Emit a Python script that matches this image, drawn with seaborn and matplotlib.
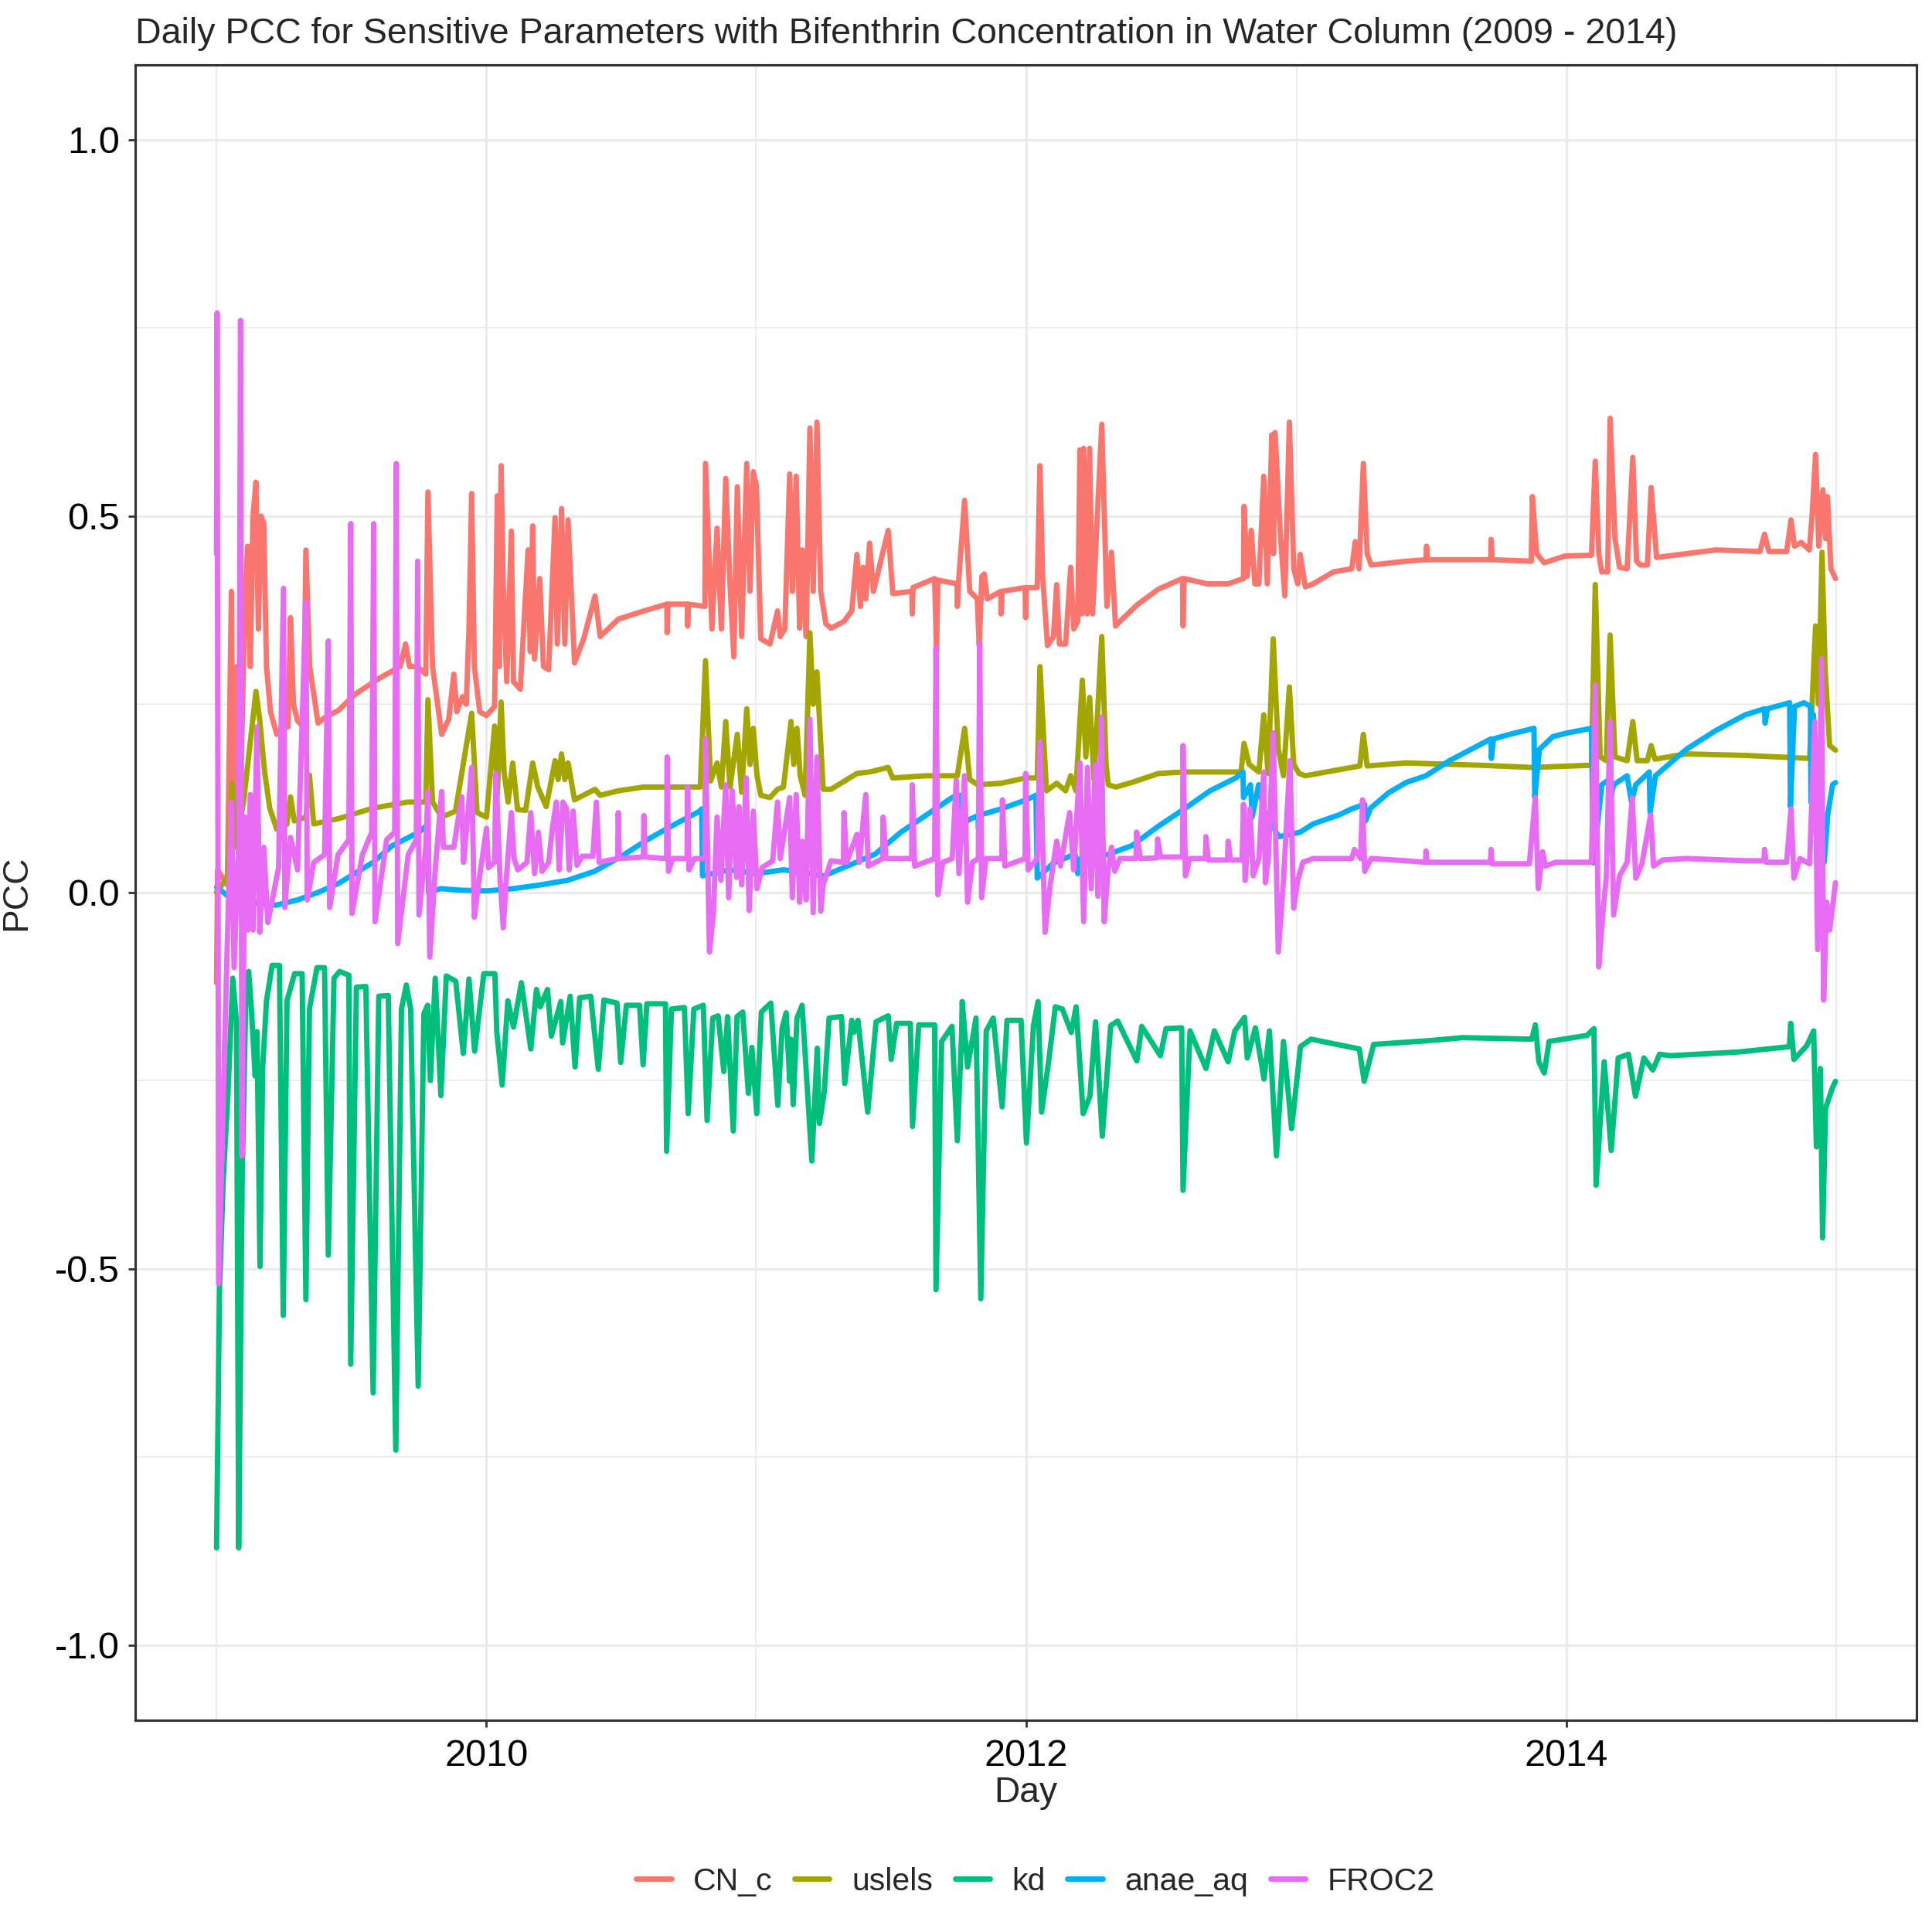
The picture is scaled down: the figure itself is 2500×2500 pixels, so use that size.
import matplotlib.pyplot as plt
import matplotlib.dates as mdates
import numpy as np
import pandas as pd
import seaborn as sns

# values: decimal year, PCC
cn_c_t = [2009.000, 2009.004, 2009.040, 2009.055, 2009.062, 2009.075, 2009.090, 2009.105, 2009.115, 2009.125,
          2009.135, 2009.146, 2009.155, 2009.165, 2009.175, 2009.185, 2009.200, 2009.223, 2009.245, 2009.265,
          2009.274, 2009.285, 2009.300, 2009.322, 2009.331, 2009.345, 2009.376, 2009.400, 2009.452, 2009.516,
          2009.605, 2009.680, 2009.700, 2009.715, 2009.745, 2009.775, 2009.783, 2009.800, 2009.834, 2009.860,
          2009.879, 2009.890, 2009.911, 2009.925, 2009.935, 2009.945, 2009.955, 2009.975, 2010.000, 2010.030,
          2010.040, 2010.047, 2010.054, 2010.062, 2010.075, 2010.092, 2010.100, 2010.125, 2010.154, 2010.162,
          2010.171, 2010.178, 2010.197, 2010.211, 2010.230, 2010.254, 2010.262, 2010.278, 2010.290, 2010.302,
          2010.326, 2010.360, 2010.402, 2010.421, 2010.488, 2010.583, 2010.668, 2010.669, 2010.672, 2010.744,
          2010.745, 2010.748, 2010.809, 2010.811, 2010.835, 2010.854, 2010.870, 2010.886, 2010.902, 2010.916,
          2010.929, 2010.945, 2010.964, 2010.976, 2010.988, 2011.000, 2011.016, 2011.050, 2011.078, 2011.088,
          2011.105, 2011.123, 2011.133, 2011.147, 2011.160, 2011.170, 2011.184, 2011.198, 2011.210, 2011.224,
          2011.238, 2011.257, 2011.276, 2011.324, 2011.353, 2011.372, 2011.385, 2011.395, 2011.405, 2011.419,
          2011.433, 2011.488, 2011.505, 2011.576, 2011.577, 2011.580, 2011.660, 2011.667, 2011.672, 2011.743,
          2011.744, 2011.748, 2011.771, 2011.790, 2011.818, 2011.825, 2011.835, 2011.844, 2011.855, 2011.905,
          2011.906, 2011.910, 2011.995, 2011.997, 2012.000, 2012.040, 2012.050, 2012.060, 2012.078, 2012.100,
          2012.112, 2012.122, 2012.145, 2012.164, 2012.175, 2012.190, 2012.198, 2012.205, 2012.212, 2012.225,
          2012.234, 2012.245, 2012.279, 2012.298, 2012.315, 2012.330, 2012.346, 2012.413, 2012.489, 2012.578,
          2012.580, 2012.584, 2012.670, 2012.747, 2012.804, 2012.806, 2012.818, 2012.833, 2012.846, 2012.861,
          2012.879, 2012.892, 2012.909, 2012.915, 2012.921, 2012.940, 2012.957, 2012.974, 2012.990, 2013.005,
          2013.014, 2013.033, 2013.062, 2013.138, 2013.205, 2013.218, 2013.232, 2013.248, 2013.262, 2013.277,
          2013.406, 2013.480, 2013.482, 2013.486, 2013.720, 2013.721, 2013.726, 2013.870, 2013.874, 2013.890,
          2013.918, 2013.995, 2014.093, 2014.107, 2014.120, 2014.131, 2014.153, 2014.162, 2014.180, 2014.197,
          2014.225, 2014.246, 2014.260, 2014.274, 2014.300, 2014.314, 2014.334, 2014.444, 2014.553, 2014.717,
          2014.734, 2014.750, 2014.816, 2014.832, 2014.845, 2014.870, 2014.900, 2014.910, 2014.923, 2014.935,
          2014.950, 2014.960, 2014.967, 2014.980, 2014.997]
cn_c_v = [-0.12, 0.03, 0.01, 0.40, 0.08, 0.30, 0.15, 0.38, 0.46, 0.30,
          0.50, 0.545, 0.35, 0.50, 0.49, 0.30, 0.24, 0.21, 0.22, 0.22,
          0.365, 0.25, 0.228, 0.22, 0.455, 0.30, 0.225, 0.232, 0.242, 0.264,
          0.285, 0.30, 0.33, 0.30, 0.30, 0.29, 0.532, 0.30, 0.21, 0.23,
          0.29, 0.24, 0.26, 0.25, 0.35, 0.53, 0.30, 0.24, 0.235, 0.247,
          0.527, 0.30, 0.567, 0.41, 0.28, 0.48, 0.28, 0.27, 0.455, 0.32,
          0.487, 0.31, 0.417, 0.30, 0.296, 0.498, 0.33, 0.51, 0.33, 0.495,
          0.305, 0.337, 0.394, 0.34, 0.363, 0.374, 0.383, 0.345, 0.383, 0.383,
          0.354, 0.383, 0.38, 0.57, 0.35, 0.484, 0.35, 0.55, 0.41, 0.313,
          0.539, 0.34, 0.57, 0.40, 0.559, 0.54, 0.337, 0.33, 0.374, 0.34,
          0.35, 0.556, 0.40, 0.553, 0.351, 0.455, 0.34, 0.617, 0.40, 0.625,
          0.40, 0.357, 0.351, 0.36, 0.374, 0.449, 0.38, 0.432, 0.39, 0.464,
          0.40, 0.481, 0.397, 0.40, 0.37, 0.405, 0.417, 0.319, 0.415, 0.41,
          0.38, 0.41, 0.521, 0.40, 0.39, 0.328, 0.42, 0.423, 0.39, 0.40,
          0.37, 0.40, 0.405, 0.365, 0.405, 0.405, 0.567, 0.42, 0.328, 0.34,
          0.409, 0.33, 0.33, 0.432, 0.35, 0.36, 0.588, 0.37, 0.59, 0.37,
          0.59, 0.37, 0.622, 0.38, 0.452, 0.354, 0.36, 0.383, 0.403, 0.417,
          0.354, 0.417, 0.41, 0.41, 0.417, 0.513, 0.42, 0.481, 0.41, 0.41,
          0.553, 0.41, 0.608, 0.45, 0.611, 0.478, 0.394, 0.625, 0.43, 0.41,
          0.449, 0.406, 0.41, 0.426, 0.43, 0.466, 0.43, 0.57, 0.45, 0.435,
          0.44, 0.442, 0.46, 0.442, 0.442, 0.469, 0.442, 0.44, 0.526, 0.45,
          0.438, 0.447, 0.448, 0.573, 0.45, 0.426, 0.426, 0.63, 0.47, 0.432,
          0.43, 0.578, 0.44, 0.435, 0.435, 0.538, 0.445, 0.45, 0.455, 0.453,
          0.476, 0.453, 0.453, 0.495, 0.46, 0.465, 0.455, 0.50, 0.582, 0.46,
          0.535, 0.47, 0.526, 0.43, 0.417]

uslels_t = [2009.000, 2009.040, 2009.057, 2009.070, 2009.100, 2009.127, 2009.146, 2009.160, 2009.178, 2009.197,
            2009.223, 2009.260, 2009.274, 2009.288, 2009.331, 2009.344, 2009.360, 2009.452, 2009.580, 2009.707,
            2009.775, 2009.783, 2009.800, 2009.834, 2009.885, 2009.945, 2009.965, 2010.000, 2010.030, 2010.040,
            2010.054, 2010.065, 2010.080, 2010.097, 2010.115, 2010.145, 2010.171, 2010.190, 2010.221, 2010.254,
            2010.265, 2010.278, 2010.290, 2010.302, 2010.326, 2010.402, 2010.421, 2010.488, 2010.583, 2010.792,
            2010.811, 2010.830, 2010.854, 2010.870, 2010.886, 2010.902, 2010.929, 2010.945, 2010.964, 2010.976,
            2010.988, 2011.002, 2011.016, 2011.050, 2011.078, 2011.100, 2011.128, 2011.138, 2011.150, 2011.162,
            2011.180, 2011.198, 2011.210, 2011.224, 2011.247, 2011.276, 2011.372, 2011.419, 2011.488, 2011.505,
            2011.630, 2011.744, 2011.771, 2011.790, 2011.820, 2011.906, 2011.997, 2012.040, 2012.050, 2012.074,
            2012.112, 2012.145, 2012.164, 2012.183, 2012.207, 2012.220, 2012.234, 2012.250, 2012.279, 2012.295,
            2012.303, 2012.331, 2012.390, 2012.489, 2012.585, 2012.795, 2012.806, 2012.825, 2012.861, 2012.879,
            2012.895, 2012.914, 2012.933, 2012.952, 2012.974, 2012.990, 2013.010, 2013.033, 2013.158, 2013.235,
            2013.248, 2013.262, 2013.406, 2013.677, 2013.874, 2014.093, 2014.107, 2014.125, 2014.148, 2014.162,
            2014.180, 2014.225, 2014.246, 2014.262, 2014.300, 2014.314, 2014.328, 2014.444, 2014.663, 2014.901,
            2014.923, 2014.934, 2014.947, 2014.958, 2014.975, 2014.997]
uslels_v = [0.00, 0.02, 0.145, 0.06, 0.12, 0.206, 0.267, 0.229, 0.16, 0.112,
            0.084, 0.09, 0.127, 0.095, 0.10, 0.156, 0.091, 0.098, 0.112, 0.12,
            0.12, 0.256, 0.12, 0.10, 0.108, 0.238, 0.106, 0.10, 0.221, 0.13,
            0.253, 0.16, 0.12, 0.172, 0.11, 0.109, 0.172, 0.14, 0.114, 0.175,
            0.15, 0.184, 0.15, 0.172, 0.123, 0.137, 0.129, 0.135, 0.14, 0.14,
            0.308, 0.148, 0.172, 0.14, 0.227, 0.14, 0.21, 0.133, 0.244, 0.17,
            0.218, 0.155, 0.129, 0.126, 0.137, 0.14, 0.227, 0.17, 0.218, 0.155,
            0.129, 0.345, 0.25, 0.293, 0.137, 0.137, 0.158, 0.16, 0.166, 0.152,
            0.155, 0.155, 0.218, 0.15, 0.143, 0.145, 0.152, 0.152, 0.30, 0.135,
            0.145, 0.135, 0.155, 0.135, 0.282, 0.18, 0.259, 0.15, 0.34, 0.17,
            0.143, 0.14, 0.146, 0.158, 0.16, 0.16, 0.198, 0.17, 0.16, 0.236,
            0.158, 0.337, 0.19, 0.155, 0.273, 0.17, 0.158, 0.155, 0.163, 0.168,
            0.21, 0.168, 0.172, 0.169, 0.166, 0.169, 0.409, 0.18, 0.175, 0.342,
            0.18, 0.175, 0.227, 0.175, 0.175, 0.195, 0.177, 0.184, 0.182, 0.178,
            0.354, 0.25, 0.452, 0.30, 0.195, 0.189]

kd_t = [2009.000, 2009.011, 2009.025, 2009.042, 2009.060, 2009.074, 2009.082, 2009.095, 2009.108, 2009.119,
        2009.129, 2009.143, 2009.150, 2009.161, 2009.171, 2009.185, 2009.206, 2009.233, 2009.247, 2009.261,
        2009.289, 2009.317, 2009.331, 2009.344, 2009.372, 2009.400, 2009.414, 2009.435, 2009.456, 2009.490,
        2009.497, 2009.518, 2009.553, 2009.580, 2009.601, 2009.636, 2009.664, 2009.685, 2009.703, 2009.719,
        2009.747, 2009.768, 2009.782, 2009.792, 2009.810, 2009.831, 2009.851, 2009.886, 2009.914, 2009.935,
        2009.956, 2009.990, 2010.031, 2010.038, 2010.058, 2010.079, 2010.100, 2010.129, 2010.164, 2010.185,
        2010.199, 2010.226, 2010.240, 2010.275, 2010.282, 2010.310, 2010.328, 2010.345, 2010.386, 2010.414,
        2010.435, 2010.483, 2010.497, 2010.518, 2010.567, 2010.580, 2010.594, 2010.663, 2010.667, 2010.685,
        2010.733, 2010.747, 2010.768, 2010.803, 2010.817, 2010.838, 2010.858, 2010.879, 2010.893, 2010.914,
        2010.928, 2010.949, 2010.970, 2010.983, 2011.001, 2011.018, 2011.053, 2011.079, 2011.095, 2011.110,
        2011.123, 2011.128, 2011.136, 2011.150, 2011.169, 2011.205, 2011.225, 2011.233, 2011.251, 2011.269,
        2011.315, 2011.327, 2011.353, 2011.361, 2011.376, 2011.412, 2011.443, 2011.488, 2011.499, 2011.519,
        2011.570, 2011.578, 2011.601, 2011.660, 2011.665, 2011.686, 2011.724, 2011.744, 2011.760, 2011.762,
        2011.782, 2011.813, 2011.831, 2011.851, 2011.877, 2011.910, 2011.928, 2011.980, 2012.000, 2012.026,
        2012.043, 2012.056, 2012.082, 2012.107, 2012.133, 2012.166, 2012.184, 2012.210, 2012.235, 2012.256,
        2012.281, 2012.312, 2012.338, 2012.409, 2012.427, 2012.496, 2012.517, 2012.575, 2012.580, 2012.606,
        2012.665, 2012.696, 2012.747, 2012.772, 2012.808, 2012.818, 2012.848, 2012.880, 2012.900, 2012.926,
        2012.952, 2012.982, 2013.015, 2013.054, 2013.233, 2013.251, 2013.286, 2013.491, 2013.616, 2013.872,
        2013.885, 2013.898, 2013.918, 2013.936, 2014.077, 2014.102, 2014.110, 2014.140, 2014.166, 2014.192,
        2014.230, 2014.256, 2014.287, 2014.320, 2014.345, 2014.384, 2014.640, 2014.826, 2014.831, 2014.843,
        2014.890, 2014.916, 2014.926, 2014.941, 2014.949, 2014.960, 2014.985, 2014.997]
kd_v = [-0.871, -0.527, -0.38, -0.27, -0.114, -0.173, -0.871, -0.38, -0.144, -0.105,
        -0.155, -0.244, -0.185, -0.497, -0.232, -0.144, -0.097, -0.097, -0.562, -0.144,
        -0.108, -0.108, -0.541, -0.155, -0.10, -0.10, -0.482, -0.114, -0.105, -0.11,
        -0.627, -0.126, -0.125, -0.665, -0.138, -0.137, -0.741, -0.155, -0.123, -0.155,
        -0.656, -0.161, -0.150, -0.25, -0.114, -0.27, -0.111, -0.118, -0.214, -0.115,
        -0.211, -0.108, -0.108, -0.185, -0.256, -0.144, -0.179, -0.12, -0.208, -0.129,
        -0.152, -0.129, -0.191, -0.145, -0.20, -0.138, -0.232, -0.14, -0.138, -0.235,
        -0.143, -0.147, -0.226, -0.15, -0.15, -0.229, -0.148, -0.148, -0.344, -0.155,
        -0.153, -0.294, -0.155, -0.15, -0.303, -0.167, -0.164, -0.238, -0.165, -0.317,
        -0.165, -0.159, -0.267, -0.206, -0.294, -0.159, -0.147, -0.283, -0.18, -0.16,
        -0.251, -0.195, -0.282, -0.167, -0.15, -0.357, -0.207, -0.307, -0.266, -0.167,
        -0.165, -0.254, -0.17, -0.186, -0.17, -0.292, -0.172, -0.164, -0.222, -0.174,
        -0.174, -0.311, -0.176, -0.176, -0.528, -0.198, -0.178, -0.33, -0.185, -0.145,
        -0.232, -0.167, -0.54, -0.184, -0.167, -0.285, -0.17, -0.17, -0.333, -0.177,
        -0.145, -0.292, -0.225, -0.152, -0.155, -0.186, -0.152, -0.294, -0.271, -0.172,
        -0.324, -0.177, -0.171, -0.224, -0.178, -0.217, -0.181, -0.18, -0.396, -0.184,
        -0.234, -0.184, -0.225, -0.184, -0.166, -0.22, -0.18, -0.248, -0.184, -0.35,
        -0.198, -0.314, -0.205, -0.195, -0.208, -0.251, -0.202, -0.197, -0.193, -0.195,
        -0.176, -0.225, -0.24, -0.198, -0.19, -0.181, -0.389, -0.225, -0.343, -0.22,
        -0.215, -0.271, -0.22, -0.236, -0.215, -0.217, -0.212, -0.205, -0.174, -0.222,
        -0.204, -0.184, -0.338, -0.234, -0.459, -0.287, -0.26, -0.251]

anae_aq_t = [2009.000, 2009.060, 2009.220, 2009.300, 2009.376, 2009.452, 2009.580, 2009.650, 2009.750, 2009.782,
             2009.785, 2009.830, 2009.900, 2010.000, 2010.100, 2010.200, 2010.300, 2010.400, 2010.500, 2010.600,
             2010.700, 2010.790, 2010.797, 2010.800, 2010.900, 2011.000, 2011.100, 2011.200, 2011.250, 2011.343,
             2011.440, 2011.535, 2011.630, 2011.725, 2011.754, 2011.757, 2011.790, 2011.820, 2011.822, 2011.830,
             2011.906, 2012.000, 2012.035, 2012.040, 2012.100, 2012.180, 2012.190, 2012.200, 2012.298, 2012.390,
             2012.489, 2012.585, 2012.680, 2012.775, 2012.802, 2012.804, 2012.830, 2012.836, 2012.860, 2012.880,
             2012.935, 2013.014, 2013.062, 2013.158, 2013.205, 2013.253, 2013.256, 2013.275, 2013.340, 2013.406,
             2013.480, 2013.567, 2013.721, 2013.722, 2013.730, 2013.790, 2013.880, 2013.883, 2013.900, 2013.950,
             2014.005, 2014.093, 2014.100, 2014.131, 2014.158, 2014.162, 2014.175, 2014.225, 2014.241, 2014.257,
             2014.307, 2014.310, 2014.330, 2014.444, 2014.553, 2014.663, 2014.734, 2014.736, 2014.745, 2014.827,
             2014.830, 2014.845, 2014.880, 2014.904, 2014.906, 2014.915, 2014.935, 2014.955, 2014.968, 2014.986,
             2014.997]
anae_aq_v = [0.007, -0.01, -0.017, -0.01, 0.0, 0.012, 0.04, 0.062, 0.080, 0.09,
             0.0, 0.005, 0.003, 0.002, 0.005, 0.01, 0.016, 0.028, 0.048, 0.071,
             0.091, 0.108, 0.111, 0.022, 0.03, 0.025, 0.03, 0.025, 0.022, 0.036,
             0.051, 0.08, 0.103, 0.126, 0.129, 0.09, 0.097, 0.102, 0.085, 0.103,
             0.111, 0.123, 0.129, 0.019, 0.039, 0.051, 0.025, 0.045, 0.050, 0.062,
             0.088, 0.111, 0.135, 0.152, 0.16, 0.126, 0.143, 0.10, 0.143, 0.108,
             0.074, 0.08, 0.091, 0.103, 0.111, 0.117, 0.095, 0.112, 0.132, 0.146,
             0.155, 0.175, 0.204, 0.178, 0.204, 0.21, 0.218, 0.126, 0.19, 0.207,
             0.212, 0.218, 0.039, 0.143, 0.150, 0.12, 0.143, 0.155, 0.12, 0.143,
             0.16, 0.106, 0.155, 0.19, 0.215, 0.236, 0.244, 0.225, 0.244, 0.252,
             0.114, 0.247, 0.252, 0.247, 0.12, 0.236, 0.05, 0.04, 0.103, 0.143,
             0.146]

froc2_t = [2009.000, 2009.002, 2009.008, 2009.030, 2009.045, 2009.055, 2009.065, 2009.083, 2009.089, 2009.094,
           2009.105, 2009.115, 2009.125, 2009.135, 2009.150, 2009.160, 2009.175, 2009.190, 2009.230, 2009.248,
           2009.253, 2009.274, 2009.300, 2009.331, 2009.336, 2009.360, 2009.400, 2009.414, 2009.419, 2009.450,
           2009.490, 2009.497, 2009.502, 2009.540, 2009.575, 2009.582, 2009.587, 2009.630, 2009.660, 2009.666,
           2009.671, 2009.710, 2009.740, 2009.745, 2009.750, 2009.775, 2009.783, 2009.790, 2009.810, 2009.834,
           2009.840, 2009.879, 2009.908, 2009.915, 2009.930, 2009.945, 2009.955, 2009.970, 2010.000, 2010.007,
           2010.030, 2010.035, 2010.050, 2010.062, 2010.073, 2010.092, 2010.102, 2010.116, 2010.150, 2010.164,
           2010.178, 2010.192, 2010.206, 2010.230, 2010.245, 2010.259, 2010.269, 2010.283, 2010.297, 2010.306,
           2010.321, 2010.335, 2010.354, 2010.394, 2010.407, 2010.417, 2010.486, 2010.488, 2010.492, 2010.581,
           2010.583, 2010.587, 2010.667, 2010.669, 2010.674, 2010.690, 2010.743, 2010.745, 2010.750, 2010.770,
           2010.809, 2010.811, 2010.826, 2010.840, 2010.854, 2010.868, 2010.886, 2010.897, 2010.910, 2010.926,
           2010.935, 2010.945, 2010.962, 2010.973, 2010.988, 2011.002, 2011.021, 2011.060, 2011.078, 2011.088,
           2011.123, 2011.133, 2011.147, 2011.160, 2011.170, 2011.184, 2011.198, 2011.210, 2011.224, 2011.238,
           2011.247, 2011.276, 2011.322, 2011.324, 2011.334, 2011.372, 2011.381, 2011.405, 2011.414, 2011.467,
           2011.469, 2011.480, 2011.575, 2011.577, 2011.586, 2011.660, 2011.665, 2011.672, 2011.690, 2011.725,
           2011.740, 2011.750, 2011.771, 2011.782, 2011.800, 2011.822, 2011.827, 2011.834, 2011.850, 2011.909,
           2011.911, 2011.920, 2011.995, 2011.997, 2012.006, 2012.040, 2012.050, 2012.069, 2012.088, 2012.112,
           2012.126, 2012.160, 2012.175, 2012.198, 2012.212, 2012.226, 2012.240, 2012.255, 2012.265, 2012.277,
           2012.288, 2012.302, 2012.315, 2012.327, 2012.346, 2012.406, 2012.408, 2012.422, 2012.484, 2012.486,
           2012.497, 2012.578, 2012.580, 2012.589, 2012.605, 2012.663, 2012.665, 2012.674, 2012.745, 2012.747,
           2012.756, 2012.799, 2012.804, 2012.810, 2012.828, 2012.840, 2012.861, 2012.879, 2012.885, 2012.896,
           2012.914, 2012.933, 2012.952, 2012.976, 2012.990, 2013.005, 2013.024, 2013.062, 2013.205, 2013.215,
           2013.238, 2013.245, 2013.253, 2013.277, 2013.406, 2013.478, 2013.480, 2013.484, 2013.719, 2013.721,
           2013.725, 2013.863, 2013.885, 2013.896, 2013.912, 2013.922, 2013.960, 2014.093, 2014.107, 2014.120,
           2014.136, 2014.148, 2014.162, 2014.175, 2014.197, 2014.225, 2014.244, 2014.257, 2014.280, 2014.312,
           2014.323, 2014.356, 2014.444, 2014.663, 2014.732, 2014.734, 2014.740, 2014.816, 2014.832, 2014.843,
           2014.865, 2014.901, 2014.909, 2014.920, 2014.931, 2014.945, 2014.953, 2014.964, 2014.975, 2014.997]
froc2_v = [0.45, 0.77, -0.52, -0.20, 0.00, 0.12, -0.10, 0.08, 0.76, -0.35,
           0.10, -0.05, 0.13, -0.05, 0.22, -0.053, 0.06, -0.04, 0.033, 0.404,
           -0.02, 0.073, 0.03, 0.386, -0.01, 0.04, 0.05, 0.334, -0.02, 0.05,
           0.07, 0.49, -0.028, 0.05, 0.08, 0.49, -0.039, 0.07, 0.08, 0.57,
           -0.068, 0.05, 0.07, 0.44, -0.03, 0.06, 0.134, -0.086, 0.03, 0.134,
           0.06, 0.06, 0.127, 0.04, 0.10, 0.166, -0.033, 0.01, 0.085, 0.033,
           0.04, 0.158, 0.02, -0.047, 0.016, 0.106, 0.045, 0.03, 0.04, 0.106,
           0.025, 0.08, 0.028, 0.04, 0.088, 0.12, 0.03, 0.12, 0.111, 0.03,
           0.108, 0.036, 0.048, 0.048, 0.12, 0.04, 0.045, 0.106, 0.045, 0.047,
           0.102, 0.047, 0.045, 0.18, 0.028, 0.045, 0.045, 0.14, 0.03, 0.045,
           0.045, 0.204, -0.079, -0.03, 0.10, 0.016, 0.143, -0.007, 0.135, 0.02,
           0.114, 0.01, 0.152, -0.024, 0.108, 0.005, 0.033, 0.042, 0.12, 0.045,
           0.126, -0.007, 0.13, -0.013, 0.068, -0.01, 0.23, -0.027, 0.18, -0.025,
           0.01, 0.042, 0.04, 0.106, 0.04, 0.077, 0.04, 0.13, 0.035, 0.045,
           0.10, 0.045, 0.045, 0.143, 0.035, 0.045, 0.325, -0.003, 0.04, 0.045,
           0.149, 0.025, 0.155, -0.013, 0.04, 0.045, 0.33, -0.007, 0.045, 0.045,
           0.123, 0.035, 0.045, 0.158, 0.03, 0.045, 0.20, -0.053, 0.01, 0.068,
           0.035, 0.106, 0.03, 0.172, -0.039, 0.166, 0.005, 0.17, -0.005, 0.233,
           -0.039, 0.028, 0.06, 0.028, 0.045, 0.045, 0.08, 0.045, 0.046, 0.071,
           0.047, 0.047, 0.195, 0.022, 0.045, 0.045, 0.074, 0.043, 0.043, 0.068,
           0.043, 0.043, 0.117, 0.016, 0.111, 0.022, 0.045, 0.16, 0.013, 0.045,
           0.212, -0.079, 0.016, 0.175, -0.021, 0.016, 0.04, 0.045, 0.045, 0.057,
           0.045, 0.123, 0.028, 0.045, 0.042, 0.040, 0.055, 0.040, 0.040, 0.057,
           0.038, 0.038, 0.126, 0.005, 0.054, 0.035, 0.04, 0.040, 0.276, -0.099,
           -0.024, 0.02, 0.227, -0.03, 0.022, 0.04, 0.126, 0.019, 0.038, 0.103,
           0.035, 0.043, 0.045, 0.042, 0.042, 0.057, 0.040, 0.040, 0.111, 0.019,
           0.045, 0.038, 0.117, 0.227, -0.076, 0.311, -0.143, -0.013, -0.05, 0.013]

params = ['CN_c', 'uslels', 'kd', 'anae_aq', 'FROC2']
colors = ['#F8766D', '#A3A500', '#00BF7D', '#00B0F6', '#E76BF3']
series = {'CN_c': (cn_c_t, cn_c_v), 'uslels': (uslels_t, uslels_v), 'kd': (kd_t, kd_v),
          'anae_aq': (anae_aq_t, anae_aq_v), 'FROC2': (froc2_t, froc2_v)}

start = pd.Timestamp('2009-01-01')


def to_day(t):
    return start + pd.to_timedelta((np.array(t) - 2009) * 365.25, unit='D')


frames = []
for p in params:
    t, v = series[p]
    frames.append(pd.DataFrame({'Day': to_day(t), 'PCC': v, 'Parameter': p}))
df = pd.concat(frames, ignore_index=True)

sns.set_style('white')
plt.rcParams['font.family'] = ['Liberation Sans', 'DejaVu Sans']

fig = plt.figure(figsize=(10, 10), dpi=250)
ax = fig.add_axes([0.07, 0.1096, 0.922, 0.857])

sns.lineplot(data=df, x='Day', y='PCC', hue='Parameter', hue_order=params,
             palette=colors, estimator=None, sort=False, linewidth=2.0,
             legend=False, ax=ax)

ax.set_ylim(-1.1, 1.1)
ax.set_yticks([-1.0, -0.5, 0.0, 0.5, 1.0])
ax.set_yticklabels(['-1.0', '-0.5', '0.0', '0.5', '1.0'])
ax.set_yticks([-0.75, -0.25, 0.25, 0.75], minor=True)

x0 = pd.Timestamp('2009-01-01') - pd.Timedelta(days=110)
x1 = pd.Timestamp('2014-12-31') + pd.Timedelta(days=110)
ax.set_xlim(x0, x1)
ax.xaxis.set_major_locator(mdates.YearLocator(2))
ax.xaxis.set_major_formatter(mdates.DateFormatter('%Y'))
ax.set_xticks([pd.Timestamp(f'{y}-01-01') for y in (2009, 2011, 2013, 2015)], minor=True)

ax.grid(which='major', color='#EBEBEB', linewidth=0.9)
ax.grid(which='minor', color='#EBEBEB', linewidth=0.5)
ax.set_axisbelow(True)
for s in ax.spines.values():
    s.set_color('#333333')
    s.set_linewidth(0.9)
ax.tick_params(which='major', direction='out', length=2.7, width=0.8, color='#333333',
               labelsize=14, labelcolor='black', bottom=True, left=True)
ax.tick_params(axis='x', which='major', pad=4.2)
ax.tick_params(axis='y', which='major', pad=3.2)
ax.tick_params(which='minor', length=0)

ax.set_xlabel('Day', fontsize=13.3, labelpad=1)
ax.set_ylabel('PCC', fontsize=13.3, labelpad=8)
ax.set_title('Daily PCC for Sensitive Parameters with Bifenthrin Concentration in Water Column (2009 - 2014)',
             loc='left', fontsize=13.4, pad=8)

handles = [plt.Line2D([], [], color=c, linewidth=2.0) for c in colors]
fig.legend(handles, params, loc='center', bbox_to_anchor=(0.536, 0.0262), ncol=5, frameon=False,
           fontsize=11.8, handlelength=1.1, handletextpad=0.7, columnspacing=0.7)

fig.savefig('out.png', dpi=250)
